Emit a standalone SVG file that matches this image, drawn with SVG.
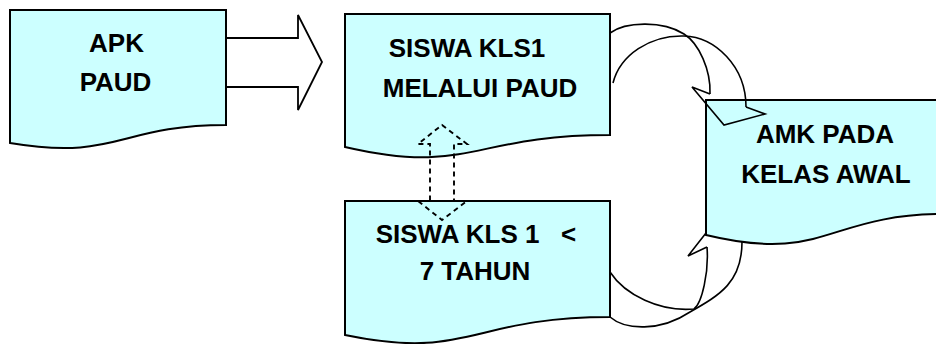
<svg xmlns="http://www.w3.org/2000/svg" width="936" height="344" viewBox="0 0 936 344">
  <style>
    .doc { fill: #CCFFFF; stroke: #000; stroke-width: 2; stroke-linejoin: miter; }
    .label { font-family: "Liberation Sans", Arial, sans-serif; font-weight: bold; font-size: 26px; fill: #000; text-anchor: middle; white-space: pre; }
    .line { fill: none; stroke: #000; stroke-width: 1.6; stroke-linejoin: miter; }
    .dash { fill: none; stroke: #000; stroke-width: 1.9; stroke-dasharray: 5 4; }
  </style>
  <rect width="936" height="344" fill="#fff"/>

  <!-- Document-shaped boxes -->
  <g id="apk-paud">
    <path class="doc" d="M10,10 H226 V125 C118,125 118,161 10,143 Z"/>
    <text class="label" x="116.5" y="52">APK</text>
    <text class="label" x="115.5" y="91">PAUD</text>
  </g>

  <g id="siswa-kls1-paud">
    <path class="doc" d="M345,14 H610 V135 C470,135 470,176 345,147 Z"/>
    <text class="label" x="467" y="57">SISWA KLS1</text>
    <text class="label" x="480" y="97">MELALUI PAUD</text>
  </g>

  <g id="siswa-kls1-7tahun">
    <path class="doc" d="M345,201 H610 V317 C470,317 470,361 345,335 Z"/>
    <text class="label" x="476" y="243">SISWA KLS 1   &lt;</text>
    <text class="label" x="475" y="280">7 TAHUN</text>
  </g>

  <g id="amk-kelas-awal">
    <path class="doc" d="M706,100 H946 V214 C826,214 826,264 706,235 Z"/>
    <text class="label" x="825" y="143">AMK PADA</text>
    <text class="label" x="826" y="183">KELAS AWAL</text>
  </g>

  <!-- Connectors -->
  <g id="connectors">
    <!-- block arrow APK PAUD -> SISWA KLS1 -->
    <path class="line" style="stroke-width:1.8" d="M226,38 H298 V15 L322,62 L298,110 V87 H226"/>

    <!-- dashed two-way arrow between the middle boxes -->
    <path class="dash" d="M442,125 L467,144 H454 V201 H467 L442,220 L418,201 H430 V144 H418 Z"/>

    <!-- curved arrow upper box -> AMK -->
    <path class="line" d="M610,33 C625,22 662,20 684,34 C699,43.5 711,70 710,94"/>
    <path class="line" d="M613,83 C620,55 650,35 684,36 C715,37 746,66 746,107"/>
    <path class="line" d="M710,94 L692,87 L724,125 L765,114 L746,107"/>

    <!-- curved arrow lower box -> AMK -->
    <path class="line" d="M610,272 C625,295 660,312 694,309 C702,303 709,272 707,247"/>
    <path class="line" d="M610,317 C625,330 660,332 690,312 C720,295 742,282 742,242"/>
    <path class="line" d="M707,247 L688,256 L706,233"/>
  </g>
</svg>
